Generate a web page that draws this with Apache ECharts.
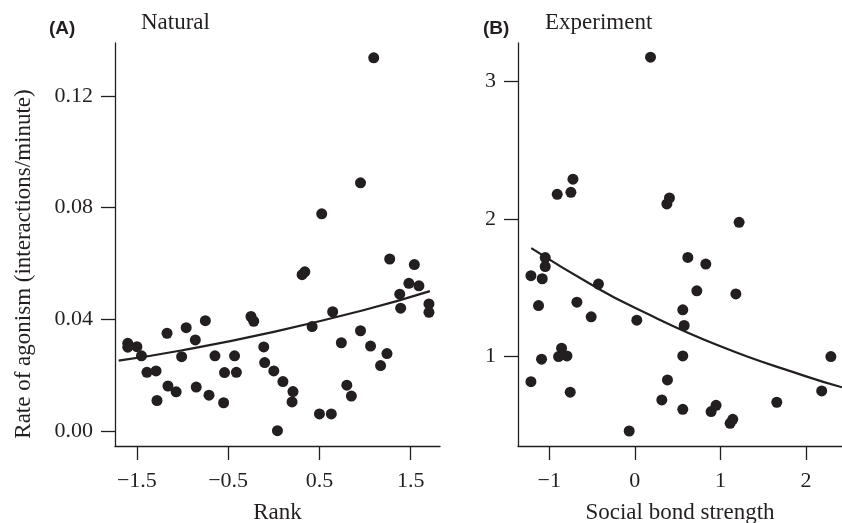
<!DOCTYPE html>
<html>
<head>
<meta charset="utf-8">
<script src="https://cdn.jsdelivr.net/npm/echarts@6/dist/echarts.min.js"></script>
<style>html,body{margin:0;padding:0;background:#fff}#c{width:842px;height:523px}</style>
</head>
<body>
<div id="c"></div>
<script>
// Panel A: Natural
var rankX = [-1.60,-1.60,-1.50,-1.45,-1.39,-1.29,-1.28,-1.17,-1.16,-1.07,-1.01,-0.96,-0.86,-0.85,-0.75,-0.71,-0.645,-0.55,-0.54,-0.43,-0.41,-0.25,-0.22,-0.11,-0.10,0.00,0.10,0.21,0.20,0.04,0.31,0.34,0.42,0.50,0.63,0.645,0.74,0.80,0.85,0.95,1.06,1.17,1.24,1.27,1.38,1.39,1.48,1.54,1.59,1.70,1.70,1.095,0.95,0.525];
var rateA = [0.0314,0.0300,0.0302,0.0269,0.0210,0.0215,0.0109,0.0350,0.0161,0.0140,0.0266,0.0370,0.0326,0.0157,0.0395,0.0128,0.0269,0.0101,0.0209,0.0269,0.0210,0.0410,0.0393,0.0301,0.0245,0.0215,0.0177,0.0141,0.0104,0.0001,0.0560,0.0570,0.0374,0.0061,0.0061,0.0427,0.0316,0.0164,0.0125,0.0359,0.0304,0.0234,0.0277,0.0616,0.0490,0.0440,0.0529,0.0596,0.0520,0.0455,0.0425,0.1337,0.0889,0.0778];
var fitAx = [-1.70,-1.0,0.0,1.0,1.71];
var fitAy = [0.0252,0.0289,0.0355,0.0434,0.0501];
var ticksAx = [-1.5,-0.5,0.5,1.5];
var ticksAy = [0,0.04,0.08,0.12];

// Panel B: Experiment
var bondX = [-0.907,-0.747,-0.723,-1.047,-1.047,-1.214,-1.082,-1.125,-0.677,-0.425,-0.51,0.023,-0.856,-0.891,-0.793,-1.09,-1.214,-0.755,-0.066,0.374,0.404,0.183,0.381,0.315,1.218,0.619,0.829,0.724,1.18,0.56,0.576,0.56,0.56,0.891,0.949,1.113,1.144,1.658,2.183,2.29];
var rateB = [2.18,2.194,2.29,1.72,1.655,1.588,1.566,1.371,1.396,1.527,1.289,1.265,1.061,1.0,1.005,0.981,0.818,0.741,0.459,2.11,2.153,3.177,0.83,0.685,1.976,1.721,1.673,1.478,1.456,1.34,1.226,1.005,0.617,0.60,0.646,0.515,0.544,0.668,0.75,1.0];
var fitBx = [-1.21,-0.5,0.0,1.0,2.0,2.42];
var fitBy = [1.789,1.52,1.355,1.075,0.856,0.777];
var ticksBx = [-1,0,1,2];
var ticksBy = [1,2,3];

var INK = '#231f20';
var SERIF = '"Liberation Serif","DejaVu Serif",serif';
function zip(a,b){return a.map(function(v,i){return [v,b[i]];});}
function minusFmt(d){return function(v){var s=(Math.abs(v)).toFixed(d);return v<0?'\u2212'+s:s;};}

function xAx(idx,min,max,ticks,fmt,name){
  return {gridIndex:idx,type:'value',min:min,max:max,
    name:name,nameLocation:'middle',nameGap:55,
    nameTextStyle:{fontFamily:SERIF,fontSize:23,color:INK},
    axisLine:{show:true,onZero:false,lineStyle:{color:INK,width:1.3}},
    axisTick:{show:true,length:14,inside:false,customValues:ticks,lineStyle:{color:INK,width:1.3}},
    axisLabel:{show:true,customValues:ticks,formatter:fmt,margin:24,fontFamily:SERIF,fontSize:22,color:INK},
    splitLine:{show:false}};
}
function yAx(idx,min,max,ticks,fmt,name){
  var o = {gridIndex:idx,type:'value',min:min,max:max,
    axisLine:{show:true,onZero:false,lineStyle:{color:INK,width:1.3}},
    axisTick:{show:true,length:14,inside:false,customValues:ticks,lineStyle:{color:INK,width:1.3}},
    axisLabel:{show:true,customValues:ticks,formatter:fmt,margin:22,fontFamily:SERIF,fontSize:22,color:INK},
    splitLine:{show:false}};
  if(name){
    o.name=name;o.nameLocation='middle';o.nameGap=80;o.nameRotate=90;
    o.nameTextStyle={fontFamily:SERIF,fontSize:23,color:INK,padding:[0,39,0,0]};
  }
  return o;
}

var chart = echarts.init(document.getElementById('c'),null,{renderer:'canvas'});
chart.setOption({
  animation:false,
  backgroundColor:'#fff',
  title:[
    {text:'(A)',left:44,top:14,textStyle:{fontFamily:'"Liberation Sans",Arial,sans-serif',fontWeight:'bold',fontSize:19,color:INK}},
    {text:'Natural',left:136,top:6,textStyle:{fontFamily:SERIF,fontWeight:'normal',fontSize:23,color:INK}},
    {text:'(B)',left:478,top:14,textStyle:{fontFamily:'"Liberation Sans",Arial,sans-serif',fontWeight:'bold',fontSize:19,color:INK}},
    {text:'Experiment',left:540,top:6,textStyle:{fontFamily:SERIF,fontWeight:'normal',fontSize:23,color:INK}}
  ],
  grid:[
    {left:115,top:43,width:325,height:403,containLabel:false,outerBoundsMode:'none'},
    {left:518,top:43,width:324,height:403,containLabel:false,outerBoundsMode:'none'}
  ],
  xAxis:[
    xAx(0,-1.74,1.821,ticksAx,minusFmt(1),'Rank'),
    xAx(1,-1.365,2.42,ticksBx,minusFmt(0),'Social bond strength')
  ],
  yAxis:[
    yAx(0,-0.0054,0.139,ticksAy,minusFmt(2),'Rate of agonism (interactions/minute)'),
    yAx(1,0.35,3.28,ticksBy,minusFmt(0),null)
  ],
  series:[
    {type:'scatter',xAxisIndex:0,yAxisIndex:0,data:zip(rankX,rateA),symbolSize:11,itemStyle:{color:INK,opacity:1},silent:true},
    {type:'line',xAxisIndex:0,yAxisIndex:0,data:zip(fitAx,fitAy),smooth:true,showSymbol:false,lineStyle:{color:INK,width:2.2},silent:true},
    {type:'scatter',xAxisIndex:1,yAxisIndex:1,data:zip(bondX,rateB),symbolSize:11,itemStyle:{color:INK,opacity:1},silent:true},
    {type:'line',xAxisIndex:1,yAxisIndex:1,data:zip(fitBx,fitBy),smooth:true,showSymbol:false,lineStyle:{color:INK,width:2.2},silent:true}
  ]
});
</script>
</body>
</html>
